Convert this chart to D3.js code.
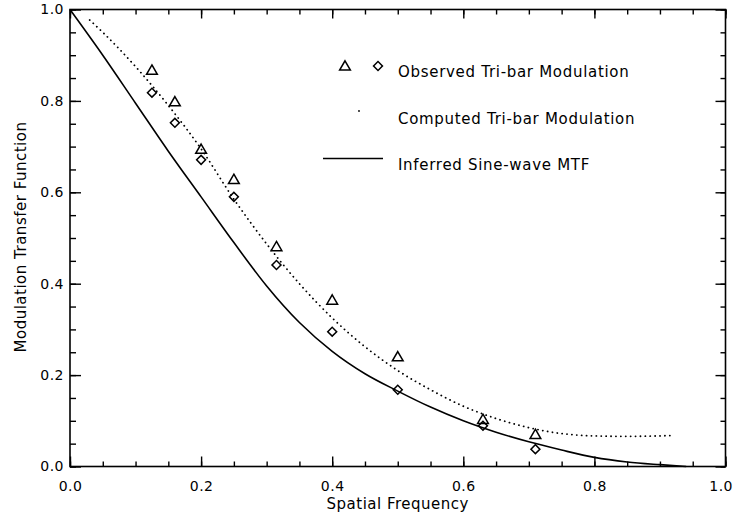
<!DOCTYPE html>
<html>
<head>
<meta charset="utf-8">
<script src="https://cdn.jsdelivr.net/npm/d3@7"></script>
<style>
  body { margin: 0; background: #fff; }
  svg { display: block; }
  text { font-family: "DejaVu Sans", sans-serif; fill: #000; }
</style>
</head>
<body>
<svg id="chart" width="735" height="518"></svg>
<script>
(function () {
    "use strict";

    // observed tri-bar modulation (triangles and diamonds)
    var obsFreq = [0.125, 0.16, 0.2, 0.25, 0.315, 0.4, 0.5, 0.63, 0.71];
    var obsTriangle = [0.865, 0.796, 0.692, 0.626, 0.479, 0.362, 0.238, 0.101, 0.068];
    var obsDiamond = [0.818, 0.752, 0.671, 0.590, 0.441, 0.295, 0.168, 0.089, 0.038];

    // computed tri-bar modulation (dotted)
    var compFreq = [0.03, 0.05, 0.1, 0.15, 0.2, 0.25, 0.3, 0.35, 0.4, 0.45, 0.5, 0.55, 0.6, 0.65, 0.7, 0.75, 0.8, 0.85, 0.9, 0.92];
    var compValue = [0.977, 0.95, 0.875, 0.79, 0.695, 0.585, 0.487, 0.400, 0.325, 0.262, 0.21, 0.168, 0.132, 0.105, 0.085, 0.072, 0.067, 0.066, 0.067, 0.068];

    // inferred sine-wave MTF (solid)
    var mtfFreq = [0, 0.05, 0.1, 0.15, 0.2, 0.25, 0.3, 0.35, 0.4, 0.45, 0.5, 0.55, 0.6, 0.65, 0.7, 0.75, 0.8, 0.85, 0.9, 0.94];
    var mtfValue = [1.0, 0.90, 0.795, 0.69, 0.59, 0.49, 0.395, 0.315, 0.252, 0.203, 0.165, 0.13, 0.10, 0.075, 0.054, 0.036, 0.020, 0.010, 0.004, 0.0];

    var majorTicks = [0, 0.2, 0.4, 0.6, 0.8, 1.0];
    var minorTicks = d3.range(0, 1.0001, 0.05);

    var legendLabels = ["Observed Tri-bar Modulation", "Computed Tri-bar Modulation", "Inferred Sine-wave MTF"];

    var left = 70, right = 725.5, top = 9.5, bottom = 466.5;

    var svg = d3.select("#chart");

    var x = d3.scaleLinear().domain([0, 1]).range([left, right]);
    var y = d3.scaleLinear().domain([0, 1]).range([bottom, top]);

    var fmt = d3.format(".1f");

    function styleAxis(g) {
        g.select(".domain").remove();
        g.selectAll(".tick line").attr("stroke", "#000").attr("stroke-width", 1.4);
        g.selectAll(".tick text").style("font-size", "14px").style("letter-spacing", "0.5px");
    }

    // minor ticks on all four sides
    svg.append("g").attr("transform", "translate(0," + bottom + ")")
        .call(d3.axisTop(x).tickValues(minorTicks).tickSize(5).tickFormat(""))
        .call(styleAxis);
    svg.append("g").attr("transform", "translate(0," + top + ")")
        .call(d3.axisBottom(x).tickValues(minorTicks).tickSize(5).tickFormat(""))
        .call(styleAxis);
    svg.append("g").attr("transform", "translate(" + left + ",0)")
        .call(d3.axisRight(y).tickValues(minorTicks).tickSize(6).tickFormat(""))
        .call(styleAxis);
    svg.append("g").attr("transform", "translate(" + right + ",0)")
        .call(d3.axisLeft(y).tickValues(minorTicks).tickSize(5).tickFormat(""))
        .call(styleAxis);

    // major ticks
    svg.append("g").attr("transform", "translate(0," + bottom + ")")
        .call(d3.axisTop(x).tickValues(majorTicks).tickSize(10).tickFormat(""))
        .call(styleAxis);
    svg.append("g").attr("transform", "translate(0," + top + ")")
        .call(d3.axisBottom(x).tickValues(majorTicks).tickSize(9).tickFormat(""))
        .call(styleAxis);
    svg.append("g").attr("transform", "translate(" + left + ",0)")
        .call(d3.axisRight(y).tickValues(majorTicks).tickSize(11).tickFormat(""))
        .call(styleAxis);
    svg.append("g").attr("transform", "translate(" + right + ",0)")
        .call(d3.axisLeft(y).tickValues(majorTicks).tickSize(10).tickFormat(""))
        .call(styleAxis);

    // tick labels
    var xLabels = svg.append("g").attr("transform", "translate(0," + (bottom + 9) + ")")
        .call(d3.axisBottom(x).tickValues(majorTicks).tickSize(0).tickPadding(6).tickFormat(fmt))
        .call(styleAxis);
    // keep the last label inside the window
    xLabels.selectAll(".tick text")
        .filter(function (d) { return d === 1.0; })
        .attr("text-anchor", "end").attr("dx", "7");
    svg.append("g").attr("transform", "translate(" + (left - 6) + ",0)")
        .call(d3.axisLeft(y).tickValues(majorTicks).tickSize(0).tickPadding(0).tickFormat(fmt))
        .call(styleAxis);

    // frame
    svg.append("rect")
        .attr("x", left).attr("y", top)
        .attr("width", right - left).attr("height", bottom - top)
        .attr("fill", "none").attr("stroke", "#000").attr("stroke-width", 1.6);

    // axis titles
    svg.append("text")
        .attr("x", (left + right) / 2).attr("y", 509)
        .attr("text-anchor", "middle")
        .style("font-size", "15px").style("letter-spacing", "0.5px")
        .text("Spatial Frequency");
    svg.append("text")
        .attr("transform", "translate(26,237) rotate(-90)")
        .attr("text-anchor", "middle")
        .style("font-size", "15px").style("letter-spacing", "0.5px")
        .text("Modulation Transfer Function");

    var line = d3.line()
        .x(function (d) { return x(d[0]); })
        .y(function (d) { return y(d[1]); })
        .curve(d3.curveMonotoneX);

    svg.append("path")
        .datum(d3.zip(mtfFreq, mtfValue))
        .attr("d", line)
        .attr("fill", "none").attr("stroke", "#000").attr("stroke-width", 1.6);

    svg.append("path")
        .datum(d3.zip(compFreq, compValue))
        .attr("d", line)
        .attr("fill", "none").attr("stroke", "#000").attr("stroke-width", 1.8)
        .attr("stroke-linecap", "round")
        .attr("stroke-dasharray", "0.1,4.8");

    var triangle = d3.symbol().type(d3.symbolTriangle).size(50);
    var diamond = d3.symbol().type(d3.symbolSquare).size(40);

    svg.append("g").selectAll("path")
        .data(d3.zip(obsFreq, obsTriangle))
        .enter().append("path")
        .attr("d", triangle)
        .attr("transform", function (d) { return "translate(" + x(d[0]) + "," + y(d[1]) + ")"; })
        .attr("fill", "none").attr("stroke", "#000").attr("stroke-width", 1.5);

    svg.append("g").selectAll("path")
        .data(d3.zip(obsFreq, obsDiamond))
        .enter().append("path")
        .attr("d", diamond)
        .attr("transform", function (d) { return "translate(" + x(d[0]) + "," + y(d[1]) + ") rotate(45)"; })
        .attr("fill", "none").attr("stroke", "#000").attr("stroke-width", 1.5);

    // legend
    var legend = svg.append("g");
    legend.append("path").attr("d", triangle)
        .attr("transform", "translate(345,67)")
        .attr("fill", "none").attr("stroke", "#000").attr("stroke-width", 1.5);
    legend.append("path").attr("d", diamond)
        .attr("transform", "translate(378,66) rotate(45)")
        .attr("fill", "none").attr("stroke", "#000").attr("stroke-width", 1.5);
    legend.append("circle").attr("cx", 359).attr("cy", 111).attr("r", 0.9).attr("fill", "#000");
    legend.append("line")
        .attr("x1", 323).attr("x2", 383).attr("y1", 158.5).attr("y2", 158.5)
        .attr("stroke", "#000").attr("stroke-width", 1.4);

    legend.selectAll("text")
        .data(legendLabels)
        .enter().append("text")
        .attr("x", 398)
        .attr("y", function (d, i) { return 77 + i * 46.5; })
        .style("font-size", "15px").style("letter-spacing", "0.7px")
        .text(function (d) { return d; });
}());
</script>
</body>
</html>
